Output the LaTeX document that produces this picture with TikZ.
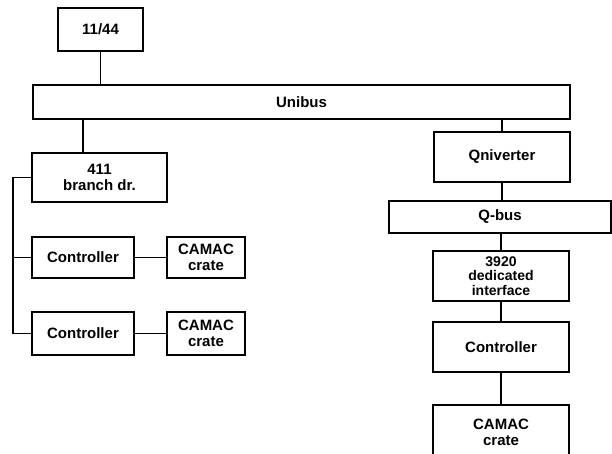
\documentclass[tikz,border=0pt]{standalone}
\usepackage{fontspec}
\setmainfont{Liberation Sans}
\begin{document}
\begin{tikzpicture}[x=1pt,y=-1pt,
  box/.style={draw, line width=1.8pt, align=center, inner sep=0pt,
    font=\fontsize{15}{15.5}\selectfont\bfseries},
  conn/.style={line width=1.8pt}]
\useasboundingbox (0,0) rectangle (612,454);
\clip (0,0) rectangle (612,454);
\node[box, minimum width=85pt, minimum height=43pt] (n1144) at (100.5,29.5) {11/44};
\node[box, minimum width=537pt, minimum height=34pt] (unibus) at (301.5,102) {Unibus};
\node[box, minimum width=135pt, minimum height=49pt] (b411) at (99.5,177.5) {411\\branch dr.};
\node[box, minimum width=102pt, minimum height=41pt] (ctrl1) at (83,257.5) {Controller};
\node[box, minimum width=78pt, minimum height=41pt] (cam1) at (206,257.5) {CAMAC\\crate};
\node[box, minimum width=102pt, minimum height=43pt] (ctrl2) at (83,333.5) {Controller};
\node[box, minimum width=78pt, minimum height=43pt] (cam2) at (206,333.5) {CAMAC\\crate};
\node[box, minimum width=136pt, minimum height=50pt] (qniv) at (502,157) {Qniverter};
\node[box, minimum width=222pt, minimum height=32pt] (qbus) at (500,217) {Q-bus};
\node[box, minimum width=136pt, minimum height=50pt, font=\fontsize{14}{14.5}\selectfont\bfseries] (i3920) at (501,276) {3920\\dedicated\\interface};
\node[box, minimum width=136pt, minimum height=50pt] (ctrl3) at (501,347) {Controller};
\node[box, minimum width=136pt, minimum height=55pt] (cam3) at (501,432.5) {CAMAC\\crate};
\coordinate (lb) at (13,0);
\draw[conn] (n1144.south) -- (n1144.south |- unibus.north);
\draw[conn] (unibus.south -| ctrl1.center) -- (b411.north -| ctrl1.center);
\draw[conn] (ctrl1.east) -- (cam1.west);
\draw[conn] (ctrl2.east) -- (cam2.west);
\draw[conn] (b411.west) -- (b411.west -| lb) -- (ctrl2.west -| lb) -- (ctrl2.west);
\draw[conn] (ctrl1.west) -- (ctrl1.west -| lb);
\draw[conn] (unibus.south -| qniv.north) -- (qniv.north);
\draw[conn] (qniv.south) -- (qniv.south |- qbus.north);
\draw[conn] (qbus.south -| i3920.north) -- (i3920.north);
\draw[conn] (i3920.south) -- (ctrl3.north);
\draw[conn] (ctrl3.south) -- (cam3.north);
\end{tikzpicture}
\end{document}
